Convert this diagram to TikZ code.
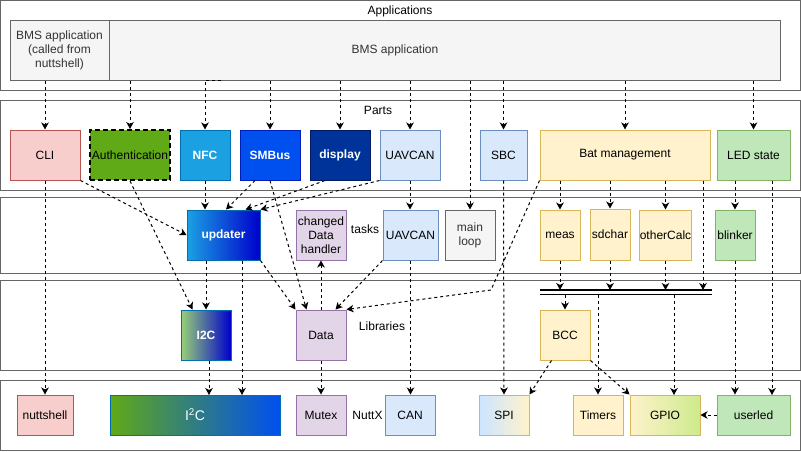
\documentclass[tikz,border=0pt]{standalone}
\usepackage{fontspec}
\setmainfont{Liberation Sans}
\usetikzlibrary{arrows.meta,calc}
\definecolor{layerc}{HTML}{666666}
\definecolor{grayf}{HTML}{F5F5F5}
\definecolor{grayt}{HTML}{333333}
\definecolor{redf}{HTML}{F8CECC}
\definecolor{redd}{HTML}{B85450}
\definecolor{authf}{HTML}{60A917}
\definecolor{nfcf}{HTML}{1BA1E2}
\definecolor{nfcd}{HTML}{006EAF}
\definecolor{smbf}{HTML}{0050EF}
\definecolor{smbd}{HTML}{001DBC}
\definecolor{dispf}{HTML}{003399}
\definecolor{dispd}{HTML}{001A66}
\definecolor{bluef}{HTML}{DAE8FC}
\definecolor{blued}{HTML}{6C8EBF}
\definecolor{yelf}{HTML}{FFF2CC}
\definecolor{yeld}{HTML}{D6B656}
\definecolor{grnf}{HTML}{C0E7B9}
\definecolor{grnd}{HTML}{82B366}
\definecolor{purf}{HTML}{E1D5E7}
\definecolor{purd}{HTML}{9673A6}
\definecolor{deepb}{HTML}{0000CC}
\definecolor{lgrn}{HTML}{97D077}
\definecolor{lblue}{HTML}{CCE5FF}
\definecolor{lime}{HTML}{CDEB8B}
\begin{document}
\begin{tikzpicture}[x=1pt,y=-1pt,
  txt/.style={font=\fontsize{12}{14}\selectfont, inner sep=0pt},
  layer/.style={draw=layerc, line width=1pt, fill=none},
  box/.style={rectangle, draw, line width=1pt, inner sep=0pt, align=center,
    font=\fontsize{12}{14}\selectfont},
  wbold/.style={text=white, font=\fontsize{12}{14}\selectfont\bfseries},
  conn/.style={draw=black, line width=1pt, dash pattern=on 3pt off 3pt,
    -{Stealth[length=7pt,width=7.5pt,inset=2pt]}},
  busline/.style={draw=black, line width=1.4pt}
]
\useasboundingbox (0,0) rectangle (801,451);
% layers
\draw[layer] (0.5,0.5) rectangle (800.5,90);
\draw[layer] (0.5,100) rectangle (800.5,190);
\draw[layer] (0.5,197) rectangle (800.5,273);
\draw[layer] (0.5,280) rectangle (800.5,370);
\draw[layer] (0.5,380) rectangle (800.5,450);
\node[txt] (lApps) at (400,11) {Applications};
\node[txt] (lParts) at (378,110) {Parts};
\node[txt] (lTasks) at (365,229) {tasks};
\node[txt] (lLibs) at (382,326) {Libraries};
\node[txt] (lNuttx) at (367.5,415) {NuttX};

% applications
\node[box, draw=layerc, fill=grayf, text=grayt, minimum width=770, minimum height=60] (BMS) at (395,50) {BMS application};
\node[box, draw=layerc, fill=grayf, text=grayt, minimum width=99, minimum height=60] (BMSc) at (59.5,50) {BMS application\\(called from\\nuttshell)};

% parts
\node[box, draw=redd, fill=redf, minimum width=70, minimum height=50] (CLI) at (45,155) {CLI};
\node[box, draw=black, line width=2pt, dash pattern=on 5pt off 3pt, fill=authf, minimum width=80, minimum height=50] (Auth) at (130,155) {Authentication};
\node[box, draw=nfcd, fill=nfcf, wbold, minimum width=50, minimum height=50] (NFC) at (205,155) {NFC};
\node[box, draw=smbd, fill=smbf, wbold, minimum width=60, minimum height=50] (SMBus) at (270,155) {SMBus};
\node[box, draw=dispd, fill=dispf, wbold, minimum width=60, minimum height=50] (display) at (340,155) {display};
\node[box, draw=blued, fill=bluef, minimum width=60, minimum height=50] (UAVp) at (410,155) {UAVCAN};
\node[box, draw=blued, fill=bluef, minimum width=47, minimum height=50] (SBC) at (503.5,155) {SBC};
\node[box, draw=yeld, fill=yelf, minimum width=170, minimum height=50] (Bat) at (625,155) {Bat management};
\node[box, draw=grnd, fill=grnf, minimum width=73, minimum height=50] (LED) at (753.5,155) {LED state};

% tasks
\node[box, draw=nfcd, left color=nfcf, right color=deepb, wbold, minimum width=73, minimum height=50] (updater) at (223.5,235) {updater};
\node[box, draw=purd, fill=purf, minimum width=50, minimum height=50] (handler) at (321,235) {changed\\Data\\handler};
\node[box, draw=blued, fill=bluef, minimum width=55, minimum height=50] (UAVt) at (410.5,235) {UAVCAN};
\node[box, draw=layerc, fill=grayf, text=grayt, minimum width=50, minimum height=50] (mainloop) at (470,235) {main\\loop};
\node[box, draw=yeld, fill=yelf, minimum width=40, minimum height=50] (meas) at (560,235) {meas};
\node[box, draw=yeld, fill=yelf, minimum width=40, minimum height=51] (sdchar) at (610,234.5) {sdchar};
\node[box, draw=yeld, fill=yelf, minimum width=51, minimum height=50] (other) at (665.5,235) {otherCalc};
\node[box, draw=grnd, fill=grnf, minimum width=40, minimum height=50] (blinker) at (735,235) {blinker};

% libraries
\node[box, draw=nfcd, left color=lgrn, right color=deepb, wbold, minimum width=50, minimum height=50] (I2C) at (206,335) {I2C};
\node[box, draw=purd, fill=purf, minimum width=50, minimum height=50] (Data) at (321,335) {Data};
\node[box, draw=yeld, fill=yelf, minimum width=50, minimum height=50] (BCC) at (565,335) {BCC};
\coordinate (bus1L) at (540,290);
\coordinate (bus1R) at (712,290);
\coordinate (bus2L) at (540,294.5);
\coordinate (bus2R) at (712,294.5);
\draw[busline] (bus1L) -- (bus1R);
\draw[busline] (bus2L) -- (bus2R);

% nuttx
\node[box, draw=redd, fill=redf, minimum width=56, minimum height=40] (nuttshell) at (45,415) {nuttshell};
\node[box, draw=nfcd, left color=authf, right color=smbf, text=white, font=\fontsize{14}{16}\selectfont, minimum width=170, minimum height=40] (I2Cn) at (195,415) {I\textsuperscript{2}C};
\node[box, draw=purd, fill=purf, minimum width=50, minimum height=40] (Mutex) at (321,415) {Mutex};
\node[box, draw=blued, fill=bluef, minimum width=50, minimum height=40] (CAN) at (410,415) {CAN};
\node[box, draw=yeld, left color=lblue, right color=yelf, minimum width=50, minimum height=40] (SPI) at (504,415) {SPI};
\node[box, draw=yeld, fill=yelf, minimum width=50, minimum height=40] (Timers) at (598,415) {Timers};
\node[box, draw=yeld, left color=yelf, right color=lime, minimum width=70, minimum height=40] (GPIO) at (665,415) {GPIO};
\node[box, draw=grnd, fill=grnf, minimum width=73, minimum height=40] (userled) at (753.5,415) {userled};

% applications -> parts
\coordinate (nfcStart) at (221,80);
\draw[conn] (BMSc.south -| CLI.north) -- (CLI.north);
\draw[conn] (BMS.south -| Auth.north) -- (Auth.north);
\draw[conn] (nfcStart) -| (NFC.north);
\draw[conn] (BMS.south -| SMBus.north) -- (SMBus.north);
\draw[conn] (BMS.south -| display.north) -- (display.north);
\draw[conn] (BMS.south -| UAVp.north) -- (UAVp.north);
\draw[conn] (BMS.south -| mainloop.north) -- (mainloop.north);
\draw[conn] (BMS.south -| SBC.north) -- (SBC.north);
\draw[conn] (BMS.south -| Bat.north) -- (Bat.north);
\draw[conn] (BMS.south -| LED.north) -- (LED.north);

% parts -> lower
\draw[conn] (CLI.south) -- (nuttshell.north);
\draw[conn] (CLI.south east) -- (updater.west);
\draw[conn] (Auth.south) -- ($(I2C.north west)+(12,0)$);
\draw[conn] (NFC.south) -- (NFC.south |- updater.north);
\draw[conn] ($(SMBus.south)+(-15,0)$) -- ($(updater.north)+(2.5,0)$);
\draw[conn] (SMBus.south) -- ($(Data.north west)+(11,0)$);
\draw[conn] ($(display.south)+(-15,0)$) -- ($(updater.north)+(22,0)$);
\draw[conn] (UAVp.south west) -- (updater.north east);
\draw[conn] (UAVp.south) -- (UAVp.south |- UAVt.north);
\draw[conn] (SBC.south) -- (SPI.north);
\draw[conn] (Bat.south west) -- (491,290) -- (Data.north east);
\draw[conn] (Bat.south -| meas.north) -- (meas.north);
\draw[conn] (Bat.south -| sdchar.north) -- (sdchar.north);
\draw[conn] (Bat.south -| other.north) -- (other.north);
\coordinate (batBus) at (703,290);
\draw[conn] (Bat.south -| batBus) -- (batBus);
\draw[conn] (LED.south -| blinker.north) -- (blinker.north);
\coordinate (ledUser) at (772,395);
\draw[conn] (LED.south -| ledUser) -- (ledUser);

% tasks -> lower
\draw[conn] (updater.south -| I2C.north) -- (I2C.north);
\coordinate (updI2Cn) at (242,395);
\draw[conn] (updater.south -| updI2Cn) -- (updI2Cn);
\draw[conn] (updater.south east) -- (Data.north west);
\draw[conn] (Data.north) -- (handler.south);
\draw[conn] (UAVt.south west) -- ($(Data.north east)+(-11,0)$);
\draw[conn] (UAVt.south) -- (UAVt.south |- CAN.north);
\draw[conn] (meas.south) -- (meas.south |- bus1L);
\draw[conn] (sdchar.south) -- (sdchar.south |- bus1L);
\draw[conn] (other.south) -- (other.south |- bus1L);
\draw[conn] (blinker.south) -- (blinker.south |- userled.north);

% libraries -> nuttx
\coordinate (i2cDown) at (209,395);
\draw[conn] (I2C.south -| i2cDown) -- (i2cDown);
\draw[conn] (Data.south) -- (Mutex.north);
\draw[conn] (bus2L -| BCC.north) -- (BCC.north);
\draw[conn] (bus2L -| Timers.north) -- (Timers.north);
\coordinate (busGpio) at (674,395);
\draw[conn] (bus2L -| busGpio) -- (busGpio);
\draw[conn] ($(BCC.south west)+(12,0)$) -- (SPI.north east);
\draw[conn] (BCC.south east) -- (GPIO.north west);
\draw[conn] (userled.west) -- (GPIO.east);
\end{tikzpicture}
\end{document}
